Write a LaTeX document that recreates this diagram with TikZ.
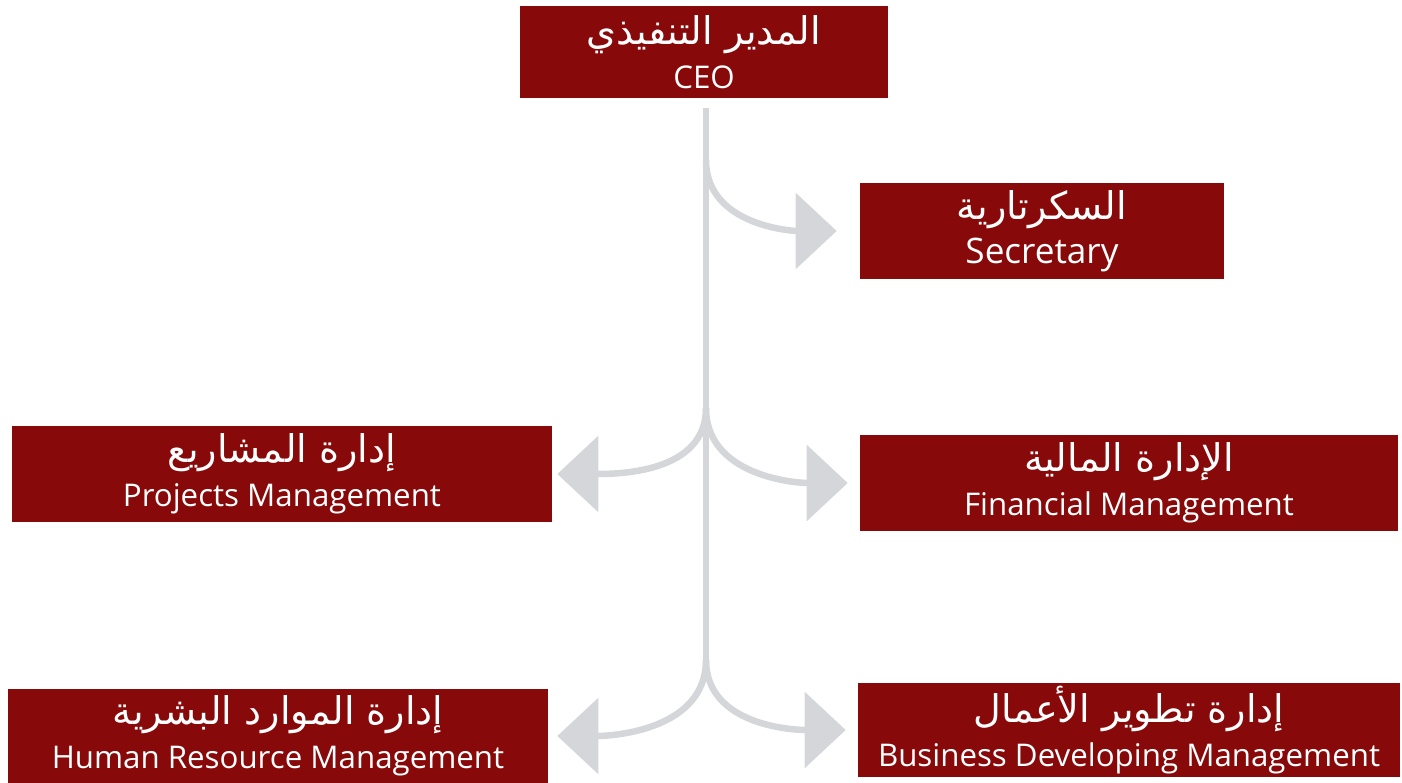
\documentclass[tikz,border=0pt]{standalone}
\usepackage{fontspec}
\usetikzlibrary{arrows.meta}
\setmainfont{Open Sans}
\newfontfamily\arabicfont[Script=Arabic,Scale=1.22]{DejaVu Sans}
\TeXXeTstate=1
\definecolor{boxred}{RGB}{136,9,9}
\definecolor{linegray}{RGB}{212,214,217}

\begin{document}
\begin{tikzpicture}[x=0.02cm,y=-0.02cm,
    box/.style={fill=boxred,text=white,align=center,inner sep=0pt,
      font=\fontsize{17.8}{25}\selectfont},
    trunk/.style={draw=linegray,line width=0.13cm},
    link/.style={trunk,shorten >=0.24cm,
      -{Triangle[length=0.82cm,width=1.5cm]}}]
    \useasboundingbox (0,0) rectangle (1402,783);
    \node[box,minimum width=7.36cm,minimum height=1.84cm] (ceo) at (704,52)
      {{\arabicfont\beginR المدير التنفيذي\endR}\\CEO};
    \node[box,minimum width=7.28cm,minimum height=1.92cm] (sec) at (1042,231)
      {{\arabicfont\beginR السكرتارية\endR}\\{\fontsize{20}{25}\selectfont Secretary}};
    \node[box,minimum width=10.8cm,minimum height=1.92cm] (proj) at (282,474)
      {{\arabicfont\beginR إدارة المشاريع\endR}\\Projects Management};
    \node[box,minimum width=10.76cm,minimum height=1.92cm] (fin) at (1129,483)
      {{\arabicfont\beginR الإدارة المالية\endR}\\Financial Management};
    \node[box,minimum width=10.8cm,minimum height=1.88cm] (hr) at (278,736)
      {{\arabicfont\beginR إدارة الموارد البشرية\endR}\\Human Resource Management};
    \node[box,minimum width=10.84cm,minimum height=1.9cm] (bus) at (1129,730)
      {{\arabicfont\beginR إدارة تطوير الأعمال\endR}\\Business Developing Management};
    \coordinate (f1) at (706,160);
    \coordinate (f2) at (706,408);
    \coordinate (f3) at (706,660);
    \draw[trunk,shorten <=0.2cm] (ceo.south -| f1) -- (f3);
    \draw[link,shorten >=0.46cm] (f1) to[out=-90,in=180] (sec.west);
    \draw[link] (f2) to[out=-90,in=180] (fin.west);
    \draw[link,shorten >=0.1cm] (f2) to[out=-90,in=0] (proj.east);
    \draw[link] (f3) to[out=-90,in=180] (bus.west);
    \draw[link,shorten >=0.18cm] (f3) to[out=-90,in=0] (hr.east);
\end{tikzpicture}
\end{document}
